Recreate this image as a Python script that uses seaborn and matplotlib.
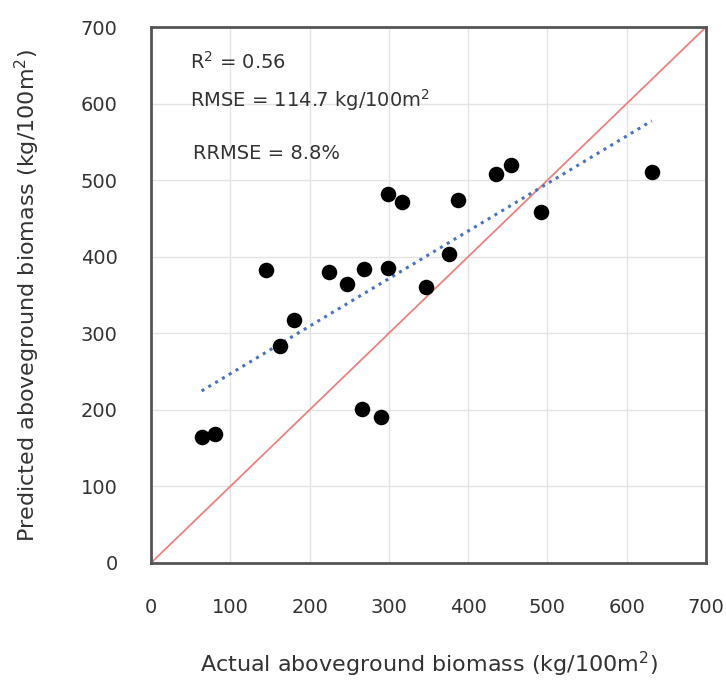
import numpy as np
import pandas as pd
import seaborn as sns
import matplotlib
matplotlib.use("Agg")
import matplotlib.pyplot as plt

# ----------------------------------------------------------------------
# data
# ----------------------------------------------------------------------
actual = [63.8, 80.4, 145.2, 163.3, 180.4, 224.6, 247.7, 265.8, 268.8, 290.0,
          298.5, 298.5, 316.0, 347.0, 375.9, 387.4, 435.7, 454.3, 492.0, 631.7]
predicted = [164.9, 167.9, 382.0, 282.9, 316.7, 380.5, 364.0, 200.9, 383.5, 190.0,
             385.0, 481.7, 471.3, 361.0, 404.0, 474.3, 508.0, 519.3, 458.0, 510.6]
one_to_one = [0, 700]
ticks = [0, 100, 200, 300, 400, 500, 600, 700]
stats_text = ["R$^2$ = 0.56", "RMSE = 114.7 kg/100m$^2$", "RRMSE = 8.8%"]

df = pd.DataFrame({"actual": actual, "predicted": predicted})

sns.set_style("white")
plt.rcParams["font.family"] = ["DejaVu Sans"]
text_col = "#333333"

fig, ax = plt.subplots(figsize=(7.26, 6.84), dpi=100)
fig.subplots_adjust(left=0.208, right=0.9725, bottom=0.177, top=0.9605)

# 1:1 line
sns.lineplot(x=one_to_one, y=one_to_one, color="#f08080", linewidth=1.3, ax=ax, zorder=2)

# fitted trend (dotted)
sns.regplot(data=df, x="actual", y="predicted", scatter=False, ci=None, truncate=True,
            line_kws={"color": "#4a72c0", "linestyle": (0, (1, 1.6)), "linewidth": 2.2},
            ax=ax)

sns.scatterplot(data=df, x="actual", y="predicted", color="black", s=125,
                edgecolor="black", linewidth=0, ax=ax, zorder=4)

ax.set_xlim(0, 700)
ax.set_ylim(0, 700)
ax.set_xticks(ticks)
ax.set_yticks(ticks)
ax.grid(True, color="#e4e4e4", linewidth=1.0)
ax.set_axisbelow(True)
for sp in ax.spines.values():
    sp.set_color("#555555")
    sp.set_linewidth(2)
ax.tick_params(axis="both", length=0, labelsize=14, colors=text_col)
ax.tick_params(axis="x", pad=25)
ax.tick_params(axis="y", pad=24)

ax.set_xlabel("Actual aboveground biomass (kg/100m$^2$)", fontsize=16, color=text_col, labelpad=24)
ax.set_ylabel("Predicted aboveground biomass (kg/100m$^2$)", fontsize=16, color=text_col, labelpad=28)

# statistics block
ax.text(49, 654, stats_text[0], fontsize=14, color=text_col, va="center")
ax.text(49, 605, stats_text[1], fontsize=14, color=text_col, va="center")
ax.text(53, 535, stats_text[2], fontsize=14, color=text_col, va="center")

plt.savefig("out.png", dpi=100)
